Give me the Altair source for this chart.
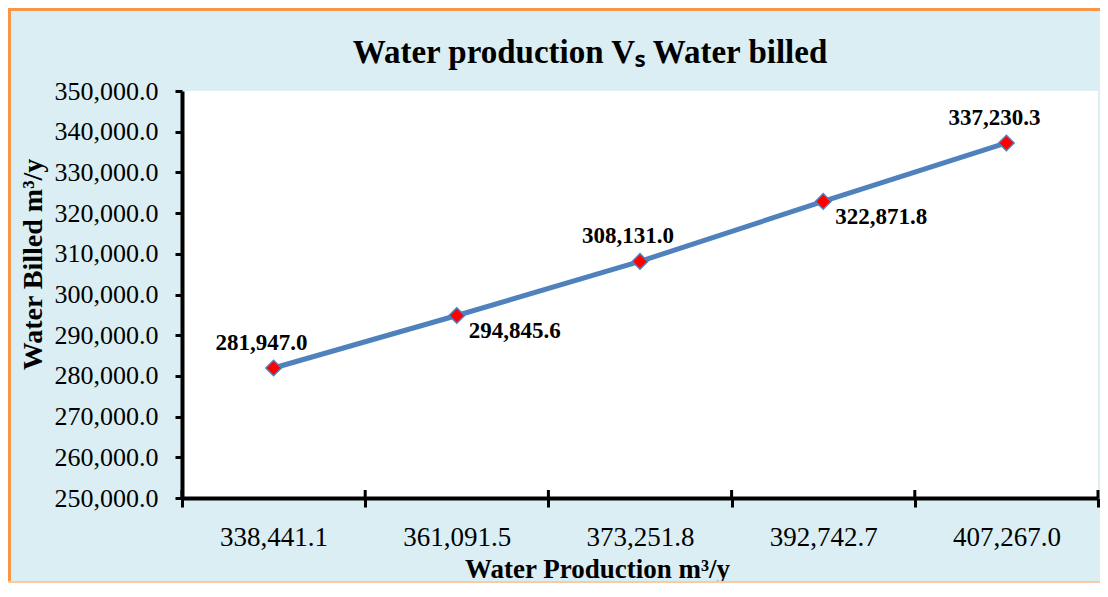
import altair as alt
import pandas as pd

# ---- data ----
production = ["338,441.1", "361,091.5", "373,251.8", "392,742.7", "407,267.0"]
billed = [281947.0, 294845.6, 308131.0, 322871.8, 337230.3]
y_ticks = [250000, 260000, 270000, 280000, 290000, 300000,
           310000, 320000, 330000, 340000, 350000]

df = pd.DataFrame({"production": production, "billed": billed,
                   "idx": list(range(len(production)))})

# ---- layout ----
PW, PH = 916, 407          # plot area
PL, PT, PR, PB = 174, 83, 2, 85

SERIF = "Liberation Serif"
BLUE = "#4F81BD"

x_scale = alt.Scale(type="band", paddingInner=0, paddingOuter=0)
x_axis = alt.Axis(
    title="Water Production m³/y", titleFont=SERIF, titleFontSize=27,
    titleFontWeight="bold", titleColor="black",
    titleX=415, titleY=79, titleBaseline="alphabetic", titleAlign="center",
    labelFont=SERIF, labelFontSize=27, labelColor="black", labelAngle=0,
    labelPadding=17, tickBand="extent", tickSize=9, tickWidth=3,
    tickColor="black", domainColor="black", domainWidth=4, grid=False,
)
y_axis = alt.Axis(
    title="Water Billed m³/y", titleFont=SERIF, titleFontSize=28,
    titleFontWeight="bold", titleColor="black",
    titleX=-149, titleY=173, titleAngle=270, titleBaseline="middle",
    titleAlign="center",
    values=y_ticks, format=",.1f",
    labelFont=SERIF, labelFontSize=26, labelColor="black", labelPadding=17,
    tickSize=7, tickWidth=3, tickColor="black",
    domainColor="black", domainWidth=4, grid=False,
)
y_scale = alt.Scale(domain=[250000, 350000], nice=False, zero=False)


def xenc(bp):
    return alt.X("production:N", sort=production, scale=x_scale,
                 axis=x_axis, bandPosition=bp)


yenc = alt.Y("billed:Q", scale=y_scale, axis=y_axis)

base = alt.Chart(df)

line = base.mark_line(color=BLUE, strokeWidth=5).encode(x=xenc(0.5), y=yenc)
pts = base.mark_point(shape="diamond", filled=True, fill="#FF0000",
                      stroke=BLUE, strokeWidth=1.5, size=240,
                      opacity=1).encode(x=xenc(0.5), y=yenc)

lab_above = base.transform_filter("datum.idx % 2 == 0").mark_text(
    font=SERIF, fontSize=23, fontWeight="bold", color="black",
    dx=-12, dy=-25, baseline="middle", align="center"
).encode(x=xenc(0.5), y=yenc, text=alt.Text("billed:Q", format=",.1f"))

lab_below = base.transform_filter("datum.idx % 2 == 1").mark_text(
    font=SERIF, fontSize=23, fontWeight="bold", color="black",
    dx=58, dy=16, baseline="middle", align="center"
).encode(x=xenc(0.5), y=yenc, text=alt.Text("billed:Q", format=",.1f"))

# upward half of the crossing x-axis ticks
up_ticks = base.mark_rule(color="black", strokeWidth=3).encode(
    x=xenc(0), y=alt.value(PH - 8), y2=alt.value(PH))
up_last = base.transform_filter("datum.idx == 4").mark_rule(
    color="black", strokeWidth=3).encode(
    x=xenc(1), y=alt.value(PH - 8), y2=alt.value(PH))

# decorative chart frame
frame_df = pd.DataFrame({"k": [0]})
fr = alt.Chart(frame_df)
left_b = fr.mark_rule(color="#F79646", strokeWidth=3).encode(
    x=alt.value(-PL + 1.5), y=alt.value(-PT), y2=alt.value(PH + PB))
top_b = fr.mark_rule(color="#F79646", strokeWidth=3).encode(
    x=alt.value(-PL), x2=alt.value(PW + PR), y=alt.value(-PT + 1.5))
bot_b = fr.mark_rule(color="#F8CBA4", strokeWidth=2).encode(
    x=alt.value(-PL), x2=alt.value(PW + PR), y=alt.value(PH + PB - 1))

chart = alt.layer(
    line, pts, lab_above, lab_below, up_ticks, up_last, left_b, top_b, bot_b
).properties(
    width=PW, height=PH,
    title=alt.TitleParams(
        "Water production Vₛ Water billed", font=SERIF, fontSize=33,
        fontWeight="bold", color="black", anchor="middle", frame="group",
        dx=-50, offset=-89, baseline="alphabetic"),
    autosize=alt.AutoSizeParams(type="none"),
    padding={"left": PL, "top": PT, "right": PR, "bottom": PB},
    background="#DBEEF4",
).configure_view(stroke=None, fill="white")

chart.save("out.html", embed_options={"renderer": "svg", "actions": False})
